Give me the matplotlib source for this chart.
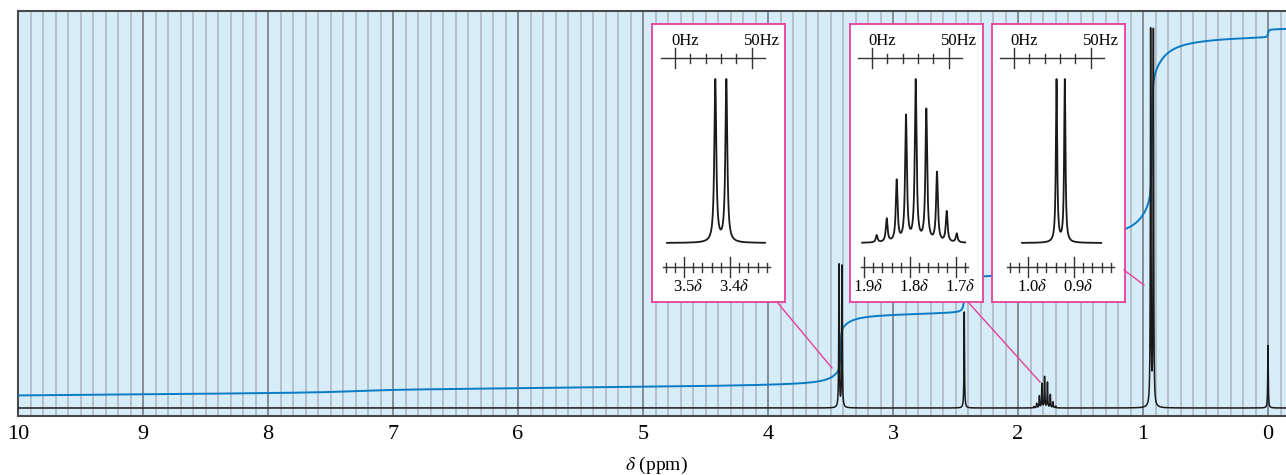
import numpy as np
import matplotlib
matplotlib.use('Agg')
import matplotlib.pyplot as plt
from matplotlib.lines import Line2D
from matplotlib.transforms import offset_copy

plt.rcParams['font.family'] = ['Liberation Serif', 'DejaVu Serif']
plt.rcParams['mathtext.fontset'] = 'stix'

W, H = 1286, 475

# peaks of the main spectrum (ppm, height above baseline in px)
d1_ppm = [3.432, 3.408]
d1_h = [143, 143]
s_ppm = [2.430]
s_h = [97]
m_ppm = [1.8724, 1.8506, 1.8289, 1.8087, 1.7876, 1.7645, 1.7413, 1.7202, 1.6984]
m_rel = [0.045, 0.145, 0.38, 0.78, 1.0, 0.82, 0.43, 0.19, 0.055]
m_h = 31
d2_ppm = [0.939, 0.917]
d2_h = [377, 377]
tms_ppm = [0.0]
tms_h = [63]

# integral trace: steps (ppm, rise, width), start level and drift
int_pos = [7.30, 3.42, 3.42, 2.43, 1.787, 1.787, 0.929, 0.929, 0.00]
int_step = [3, 44, 27, 36, 30, 8, 128, 76, 8]
int_width = [0.25, 0.004, 0.08, 0.006, 0.03, 0.1, 0.004, 0.1, 0.004]
int_start = 12
int_slope = 1.0

xticks = list(range(10, -1, -1))

# insets
ins_px = [(652, 24), (850, 24), (992, 24)]
ins_w, ins_h = 133, 278
ins_left = [3.5696, 1.9304, 1.0783]
ins_hz0 = [3.5196, 1.8826, 1.0305]
ins_major = [[3.5, 3.4], [1.9, 1.8, 1.7], [1.0, 0.9]]
ins_ticks = [(3.54, 3.32), (1.90, 1.68), (1.04, 0.82)]
ins_base = [(3.537, 3.324), (1.904, 1.680), (1.013, 0.841)]
ins_lw = [0.0025, 0.0023, 0.0017]
ins_peaks = [(d1_ppm, [1, 1]), (m_ppm, m_rel), ([0.938, 0.920], [1, 1])]
hz_ticks = [0, 10, 20, 30, 40, 50]

# connector lines (figure px)
conn = [((777, 302), (832, 368)), ((968, 302), (1040, 382)), ((1124, 270), (1144, 285))]

MAG = '#e6409b'
BLUE = '#0a7cc6'
BG = '#d6ecf9'


def lor(x, p, w):
    return 1.0 / (1.0 + ((x - p) / w) ** 2)


fig = plt.figure(figsize=(W / 100, H / 100), dpi=100)
ax = fig.add_axes([18 / W, 1 - 415.5 / H, (W - 18) / W, (415.5 - 11) / H])
ax.set_facecolor(BG)
ax.set_xlim(10, 10 - (W - 18) / 125)
ax.set_ylim(-7.5, 397)

# grid
for k in range(-1, 101):
    v = k / 10
    if k % 10 == 0:
        ax.axvline(v, color='#6e7378', lw=1.1, zorder=1)
    else:
        ax.axvline(v, color='#adb5bd', lw=1.1, zorder=1)

# integral
x = np.linspace(10, -0.15, 20000)
yi = int_start + int_slope * (10 - x)
for p, a, w in zip(int_pos, int_step, int_width):
    yi = yi + a * (0.5 + np.arctan((p - x) / w) / np.pi)
ax.plot(x, yi, color=BLUE, lw=1.4, zorder=3)

# spectrum
y = np.zeros_like(x)
wm = 0.0025
for p, h in zip(d1_ppm + s_ppm + d2_ppm + tms_ppm, d1_h + s_h + d2_h + tms_h):
    y += h * lor(x, p, wm)
for p, r in zip(m_ppm, m_rel):
    y += m_h * r * lor(x, p, wm)
ax.plot(x, y, color='#1a1a1a', lw=1.1, zorder=4)

ax.set_xticks(xticks)
ax.set_xticklabels([str(t) for t in xticks], fontsize=16)
ax.tick_params(axis='x', length=0, pad=7)
ax.set_yticks([])
for s in ['top', 'left', 'bottom']:
    ax.spines[s].set_color('#4a4a4a')
    ax.spines[s].set_linewidth(1.5)
ax.spines['right'].set_visible(False)

fig.text(656 / W, 1 - 465 / H, r'$\delta$ (ppm)', ha='center', va='center', fontsize=14)

# connectors
for (x0, y0), (x1, y1) in conn:
    fig.add_artist(Line2D([x0 / W, x1 / W], [1 - y0 / H, 1 - y1 / H],
                          transform=fig.transFigure, color=MAG, lw=1.0))

# insets
for i in range(3):
    px, py = ins_px[i]
    ia = fig.add_axes([px / W, 1 - (py + ins_h) / H, ins_w / W, ins_h / H])
    ia.set_facecolor('white')
    left = ins_left[i]
    ia.set_xlim(left, left - ins_w / 460)
    ia.set_ylim(ins_h, 0)
    ia.set_xticks([])
    ia.set_yticks([])
    for s in ia.spines.values():
        s.set_color(MAG)
        s.set_linewidth(1.3)

    # Hz scale
    hz0 = ins_hz0[i]
    hz = lambda f: hz0 - f / 300
    ia.plot([hz(-9), hz(59)], [34, 34], color='#333333', lw=1.0)
    for f in hz_ticks:
        if f in (0, 50):
            ia.plot([hz(f), hz(f)], [24, 44], color='#333333', lw=1.0)
        else:
            ia.plot([hz(f), hz(f)], [29.5, 38.5], color='#333333', lw=1.0)
    tr0 = offset_copy(ia.transData, fig=fig, x=-4, y=0, units='dots')
    ia.text(hz(0), 21, '0Hz', transform=tr0, ha='left', va='baseline', fontsize=12)
    tr50 = offset_copy(ia.transData, fig=fig, x=-7.5, y=0, units='dots')
    ia.text(hz(50), 21, '50Hz', transform=tr50, ha='left', va='baseline', fontsize=12)

    # ppm scale
    t0, t1 = ins_ticks[i]
    ia.plot([t0 + 0.006, t1 - 0.006], [243, 243], color='#333333', lw=1.0)
    n = int(round((t0 - t1) / 0.02))
    for k in range(n + 1):
        v = round(t0 - 0.02 * k, 3)
        if any(abs(v - m) < 1e-6 for m in ins_major[i]):
            ia.plot([v, v], [233, 253], color='#333333', lw=1.0)
        else:
            ia.plot([v, v], [238.5, 247.5], color='#333333', lw=1.0)
    trl = offset_copy(ia.transData, fig=fig, x=4, y=0, units='dots')
    for m in ins_major[i]:
        ia.text(m, 267, f'{m:.1f}' + r'$\delta$', transform=trl, ha='center',
                va='baseline', fontsize=12)

    # spectrum
    b0, b1 = ins_base[i]
    xs = np.linspace(b0, b1, 4000)
    ys = np.zeros_like(xs)
    pp, rr = ins_peaks[i]
    for p, r in zip(pp, rr):
        ys += r * lor(xs, p, ins_lw[i])
    ys = ys / ys.max() * 164
    ia.plot(xs, 219 - ys, color='#1a1a1a', lw=1.3)

fig.savefig('out.png', dpi=100)
